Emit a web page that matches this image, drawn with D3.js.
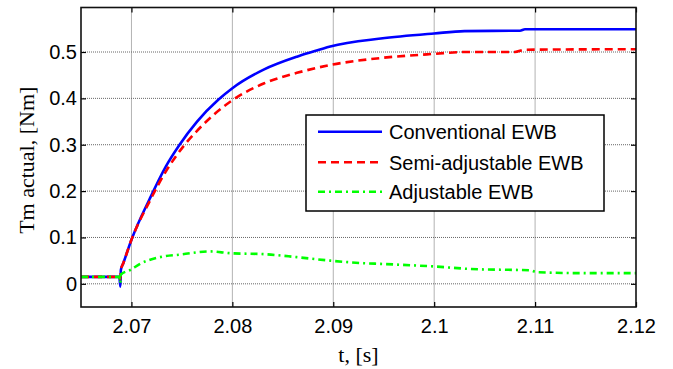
<!DOCTYPE html>
<html><head><meta charset="utf-8">
<script src="https://cdn.jsdelivr.net/npm/d3@7"></script>
<style>body{margin:0;background:#fff}</style>
</head><body><svg id="c" width="673" height="369"></svg>
<script>
const xTicks = [2.07, 2.08, 2.09, 2.1, 2.11, 2.12];
const xTickLabels = ["2.07", "2.08", "2.09", "2.1", "2.11", "2.12"];
const yTicks = [0, 0.1, 0.2, 0.3, 0.4, 0.5];
const yTickLabels = ["0", "0.1", "0.2", "0.3", "0.4", "0.5"];
const seriesNames = ["Conventional EWB", "Semi-adjustable EWB", "Adjustable EWB"];

const convT = [2.065, 2.0688, 2.0689, 2.06895, 2.0692, 2.070, 2.0718, 2.0734, 2.0747, 2.0765, 2.0786, 2.080, 2.0831, 2.0864, 2.0877, 2.0897, 2.0947, 2.100, 2.103, 2.1085, 2.109, 2.12];
const convV = [0.015, 0.015, -0.006, 0.03, 0.045, 0.095, 0.183, 0.253, 0.298, 0.350, 0.397, 0.422, 0.462, 0.490, 0.499, 0.512, 0.529, 0.540, 0.545, 0.546, 0.549, 0.549];

const semiT = [2.065, 2.0688, 2.0689, 2.06895, 2.0692, 2.070, 2.0718, 2.0734, 2.0752, 2.0765, 2.080, 2.0831, 2.0864, 2.0897, 2.0947, 2.100, 2.103, 2.108, 2.109, 2.12];
const semiV = [0.015, 0.015, 0.01, 0.03, 0.045, 0.095, 0.178, 0.242, 0.298, 0.330, 0.396, 0.432, 0.455, 0.472, 0.487, 0.496, 0.5, 0.5, 0.505, 0.506];

const adjT = [2.065, 2.0688, 2.0689, 2.06895, 2.0699, 2.07085, 2.07316, 2.07482, 2.0778, 2.0798, 2.0831, 2.0864, 2.0897, 2.093, 2.0947, 2.1003, 2.1036, 2.1095, 2.1102, 2.1152, 2.12];
const adjV = [0.015, 0.015, 0.002, 0.02, 0.030, 0.043, 0.059, 0.063, 0.070, 0.066, 0.064, 0.0575, 0.050, 0.0445, 0.043, 0.037, 0.032, 0.029, 0.025, 0.023, 0.023];

const svg = d3.select("#c");
const L = 81, R = 636, T = 7.5, B = 307;
const x = d3.scaleLinear().domain([2.065, 2.12]).range([L, R]);
const y = d3.scaleLinear().domain([-0.05, 0.596]).range([B, T]);

svg.append("defs").append("clipPath").attr("id", "clip")
  .append("rect").attr("x", L).attr("y", T).attr("width", R - L).attr("height", B - T);

const g = svg.append("g");
g.selectAll(".gx").data(xTicks.filter(d => d < 2.12)).enter().append("line")
  .attr("x1", d => x(d)).attr("x2", d => x(d)).attr("y1", T).attr("y2", B)
  .attr("stroke", "#666").attr("stroke-width", 1).attr("stroke-dasharray", "1,1");
g.selectAll(".gy").data(yTicks).enter().append("line")
  .attr("y1", d => y(d)).attr("y2", d => y(d)).attr("x1", L).attr("x2", R)
  .attr("stroke", "#666").attr("stroke-width", 1).attr("stroke-dasharray", "1,1");

const fmtX = (d) => xTickLabels[xTicks.indexOf(d)];
const fmtY = (d) => yTickLabels[yTicks.indexOf(d)];
const axB = svg.append("g").attr("transform", `translate(0,${B})`)
  .call(d3.axisBottom(x).tickValues(xTicks).tickFormat(fmtX).tickSizeInner(-5).tickSizeOuter(0).tickPadding(12));
const axT = svg.append("g").attr("transform", `translate(0,${T})`)
  .call(d3.axisTop(x).tickValues(xTicks).tickFormat("").tickSizeInner(-5).tickSizeOuter(0));
const axL = svg.append("g").attr("transform", `translate(${L},0)`)
  .call(d3.axisLeft(y).tickValues(yTicks).tickFormat(fmtY).tickSizeInner(-5).tickSizeOuter(0).tickPadding(4));
const axR = svg.append("g").attr("transform", `translate(${R},0)`)
  .call(d3.axisRight(y).tickValues(yTicks).tickFormat("").tickSizeInner(-5).tickSizeOuter(0));
[axB, axT, axL, axR].forEach(a => {
  a.select(".domain").remove();
  a.selectAll(".tick line").attr("stroke", "#000").attr("stroke-width", 1.2);
  a.selectAll("text").attr("font-family", "Liberation Sans, Arial, sans-serif").attr("font-size", 20).attr("fill", "#000");
});

const mk = (T_, V_) => T_.map((t, i) => [t, V_[i]]);
const line = d3.line().x(d => x(d[0])).y(d => y(d[1])).curve(d3.curveMonotoneX);
const plot = svg.append("g").attr("clip-path", "url(#clip)");
const styles = [
  {color: "#0000ff", dash: null},
  {color: "#ff0000", dash: "8,5"},
  {color: "#00ff00", dash: "7,4,2,4"}
];
const datas = [mk(convT, convV), mk(semiT, semiV), mk(adjT, adjV)];
datas.forEach((d, i) => {
  plot.append("path").datum(d).attr("d", line).attr("fill", "none")
    .attr("stroke", styles[i].color).attr("stroke-width", 2.6)
    .attr("stroke-dasharray", styles[i].dash);
});

svg.append("rect").attr("x", L).attr("y", T).attr("width", R - L).attr("height", B - T)
  .attr("fill", "none").attr("stroke", "#111").attr("stroke-width", 1.6);

const lg = svg.append("g");
lg.append("rect").attr("x", 306).attr("y", 115).attr("width", 298).attr("height", 96)
  .attr("fill", "#fff").attr("stroke", "#000").attr("stroke-width", 1.5);
const ly = [131.7, 162.3, 191.7];
seriesNames.forEach((n, i) => {
  lg.append("line").attr("x1", 318).attr("x2", 382).attr("y1", ly[i]).attr("y2", ly[i])
    .attr("stroke", styles[i].color).attr("stroke-width", 2.6).attr("stroke-dasharray", styles[i].dash);
  lg.append("text").attr("x", 389).attr("y", ly[i]).attr("dy", "0.36em")
    .attr("font-family", "Liberation Sans, Arial, sans-serif").attr("font-size", 20).text(n);
});

svg.append("text").attr("x", (L + R) / 2).attr("y", 362).attr("text-anchor", "middle")
  .attr("font-family", "Liberation Serif, Times New Roman, serif").attr("font-size", 22).text("t, [s]");
svg.append("text").attr("transform", `translate(34,${(T + B) / 2 + 3}) rotate(-90)`).attr("text-anchor", "middle")
  .attr("font-family", "Liberation Serif, Times New Roman, serif").attr("font-size", 22).text("Tm actual,  [Nm]");
</script></body></html>
